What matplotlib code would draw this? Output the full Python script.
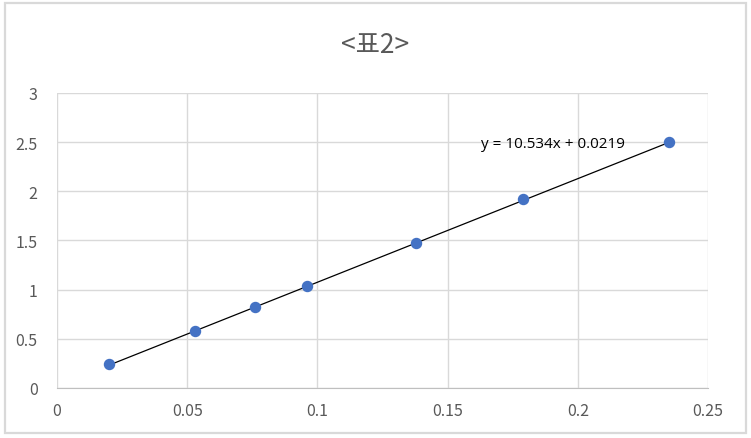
import numpy as np
import matplotlib
matplotlib.use("Agg")
import matplotlib.pyplot as plt
from matplotlib.patches import Rectangle

plt.rcParams['font.family'] = ['Noto Sans CJK KR', 'DejaVu Sans']

# data
x_vals = [0.020, 0.053, 0.076, 0.096, 0.138, 0.179, 0.235]
y_vals = [0.24, 0.58, 0.82, 1.04, 1.47, 1.92, 2.50]
slope, intercept = 10.534, 0.0219
title = "<표2>"
eq_label = "y = 10.534x + 0.0219"
x_ticks = [0, 0.05, 0.1, 0.15, 0.2, 0.25]
x_tick_labels = ["0", "0.05", "0.1", "0.15", "0.2", "0.25"]
y_ticks = [0, 0.5, 1, 1.5, 2, 2.5, 3]
y_tick_labels = ["0", "0.5", "1", "1.5", "2", "2.5", "3"]

fig = plt.figure(figsize=(7.51, 4.39), dpi=100)
ax = fig.add_axes([0.0759, 0.1139, 0.8668, 0.672])

# chart frame
fig.patches.append(Rectangle((4.5/751, 5/439), 741/751, 430/439, transform=fig.transFigure,
                             fill=False, edgecolor="#D9D9D9", linewidth=1.6))

ax.set_xlim(0, 0.25)
ax.set_ylim(0, 3)
ax.set_xticks(x_ticks, x_tick_labels)
ax.set_yticks(y_ticks, y_tick_labels)
ax.grid(True, color="#D9D9D9", linewidth=1.0)
ax.set_axisbelow(True)
for s in ["top", "right", "left"]:
    ax.spines[s].set_visible(False)
ax.spines["bottom"].set_color("#BFBFBF")
ax.tick_params(axis="x", length=0, labelsize=11.5, colors="#595959", pad=10)
ax.tick_params(axis="y", length=0, labelsize=11.5, colors="#595959", pad=14)

xs = np.array([min(x_vals), max(x_vals)])
ax.plot(xs, slope*xs + intercept, color="black", linewidth=0.9, zorder=2)
ax.scatter(x_vals, y_vals, s=52, color="#4472C4", zorder=3)
ax.text(0.163, 2.49, eq_label, fontsize=11, color="black", va="center",
        family=["Open Sans", "DejaVu Sans"])

fig.text(0.5, 0.897, title, ha="center", va="center", fontsize=19, color="#595959",
         fontweight="light")

fig.savefig("out.png", dpi=100)
